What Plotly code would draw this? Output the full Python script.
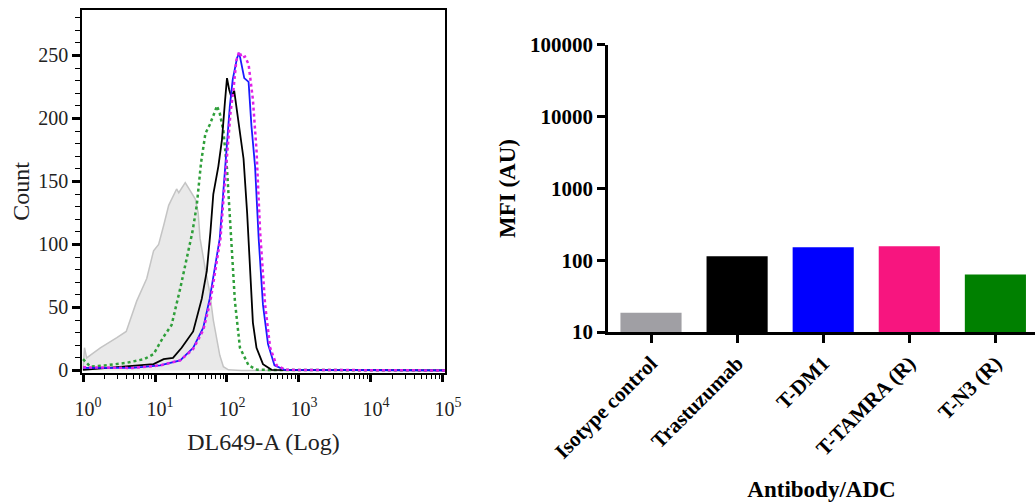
import numpy as np
import plotly.graph_objects as go

# ---------------- Left panel: flow cytometry histograms ----------------
# x positions given as log10 of DL649-A intensity, y = Count
iso_logx = [0.0, 0.02, 0.05, 0.24, 0.47, 0.6, 0.745, 0.885, 0.98, 1.05, 1.12, 1.19, 1.30, 1.33, 1.42, 1.46, 1.51, 1.56,
            1.60, 1.625, 1.70, 1.76, 1.81, 1.85, 1.90, 1.95, 2.02, 2.2, 5.03]
iso_cnt = [0, 18, 10, 18, 26, 31, 55, 73, 95, 100, 115, 131, 144, 141, 149, 145, 141, 136,
           125, 105, 80, 62, 40, 26, 12, 3, 0.5, 0, 0]

tn3_logx = [0.0, 0.1, 0.3, 0.6, 0.85, 0.98, 1.11, 1.23, 1.35, 1.44, 1.52, 1.58, 1.64, 1.70, 1.76, 1.83, 1.86,
            1.90, 1.95, 2.00, 2.04, 2.07, 2.11, 2.18, 2.30, 2.42, 5.03]
tn3_cnt = [9, 3, 4, 6, 9, 13, 26, 36, 65, 89, 110, 131, 165, 188, 195, 205, 210,
           204, 190, 160, 125, 95, 55, 18, 4, 0.5, 0]

tras_logx = [0.0, 0.6, 0.98, 1.12, 1.25, 1.37, 1.53, 1.65, 1.72, 1.77, 1.81, 1.88, 1.93, 1.97, 2.00, 2.03, 2.06,
             2.10, 2.14, 2.18, 2.23, 2.28, 2.32, 2.36, 2.41, 2.50, 2.62, 5.03]
tras_cnt = [0.5, 3, 5, 9, 10, 18, 31, 57, 79, 110, 140, 162, 183, 212, 232, 223, 217,
            222, 205, 189, 168, 125, 75, 38, 18, 5, 0.5, 0]

tdm1_logx = [0.0, 0.69, 1.07, 1.35, 1.53, 1.67, 1.76, 1.85, 1.90, 1.94, 2.00, 2.04, 2.08, 2.11, 2.14, 2.17,
             2.20, 2.24, 2.30, 2.34, 2.39, 2.44, 2.50, 2.57, 2.66, 2.80, 5.03]
tdm1_cnt = [2, 2, 4, 8, 18, 34, 57, 89, 105, 135, 183, 210, 231, 241, 248, 252,
            244, 232, 229, 194, 162, 105, 52, 21, 4, 0.5, 0]

ttamra_logx = [0.0, 0.69, 1.07, 1.35, 1.53, 1.67, 1.77, 1.86, 1.91, 1.95, 2.01, 2.05, 2.09, 2.13, 2.17, 2.21,
               2.25, 2.30, 2.36, 2.41, 2.46, 2.53, 2.60, 2.69, 2.82, 5.03]
ttamra_cnt = [2.5, 2, 4, 8, 17, 32, 55, 87, 105, 135, 178, 205, 223, 246, 253, 248,
              249, 243, 215, 175, 110, 52, 18, 4, 0.5, 0]

hist_xtick_vals = [1, 10, 100, 1000, 10000, 100000]
hist_xtick_text = ["10<sup>0</sup>", "10<sup>1</sup>", "10<sup>2</sup>", "10<sup>3</sup>",
                   "10<sup>4</sup>", "10<sup>5</sup>"]
hist_ytick_vals = [0, 50, 100, 150, 200, 250]

# ---------------- Right panel: MFI bar chart ----------------
categories = ["Isotype control", "Trastuzumab", "T-DM1", "T-TAMRA (R)", "T-N3 (R)"]
mfi_values = [18.5, 114, 152, 157, 63.5]
bar_colors = ["#a09fa4", "#000000", "#0000ff", "#f7157f", "#008000"]
mfi_tick_vals = [10, 100, 1000, 10000, 100000]
mfi_tick_text = ["10", "100", "1000", "10000", "100000"]

FONT = "Liberation Serif"

fig = go.Figure()


def to_lin(v):
    return 10 ** np.array(v)


fig.add_trace(go.Scatter(x=to_lin(iso_logx), y=iso_cnt, mode="lines", fill="tozeroy",
                         fillcolor="#e9e9e9", line=dict(color="#c4c4c4", width=1.5),
                         xaxis="x", yaxis="y", showlegend=False))
fig.add_trace(go.Scatter(x=to_lin(tn3_logx), y=tn3_cnt, mode="lines",
                         line=dict(color="#2f9f3a", width=2.5, dash="dot"),
                         xaxis="x", yaxis="y", showlegend=False))
fig.add_trace(go.Scatter(x=to_lin(tras_logx), y=tras_cnt, mode="lines",
                         line=dict(color="#000000", width=1.8),
                         xaxis="x", yaxis="y", showlegend=False))
fig.add_trace(go.Scatter(x=to_lin(tdm1_logx), y=tdm1_cnt, mode="lines",
                         line=dict(color="#1a1aff", width=1.8),
                         xaxis="x", yaxis="y", showlegend=False))
fig.add_trace(go.Scatter(x=to_lin(ttamra_logx), y=ttamra_cnt, mode="lines",
                         line=dict(color="#e020e8", width=2.5, dash="dot"),
                         xaxis="x", yaxis="y", showlegend=False))

fig.add_trace(go.Bar(x=categories, y=mfi_values, marker=dict(color=bar_colors, line=dict(width=0)),
                     width=0.71, xaxis="x2", yaxis="y2", showlegend=False))

fig.update_layout(
    width=1035, height=502,
    margin=dict(l=0, r=0, t=0, b=0, autoexpand=False),
    paper_bgcolor="white", plot_bgcolor="white",
    font=dict(family=FONT, color="#111111"),
    xaxis=dict(
        domain=[0.0792, 0.430], type="log", range=[-0.015, 5.03], automargin=False,
        tickvals=hist_xtick_vals, ticktext=hist_xtick_text,
        ticks="outside", ticklen=7, tickwidth=3, tickcolor="black",
        minor=dict(ticks="outside", ticklen=4, tickwidth=1, tickcolor="black", dtick="D1"),
        showline=True, linecolor="black", linewidth=1.5, mirror=True,
        showgrid=False, zeroline=False,
        ticklabelstandoff=10, ticklabelshift=5,
        tickfont=dict(family=FONT, size=20, color="#222222"),
        title=dict(text="DL649-A (Log)", font=dict(family=FONT, size=24, color="#222222"), standoff=14),
        anchor="y",
    ),
    yaxis=dict(
        domain=[0.257, 0.980], range=[-2, 286], automargin=False,
        tickvals=hist_ytick_vals,
        ticks="outside", ticklen=8, tickwidth=3, tickcolor="black",
        minor=dict(ticks="outside", ticklen=5, tickwidth=1, tickcolor="black", dtick=10),
        showline=True, linecolor="black", linewidth=1.5, mirror=True,
        showgrid=False, zeroline=False,
        tickfont=dict(family=FONT, size=20, color="#222222"),
        title=dict(text="Count", font=dict(family=FONT, size=24, color="#222222"), standoff=2),
        anchor="x",
    ),
    xaxis2=dict(
        domain=[0.5874, 1.0], range=[-0.5, 4.46], type="category", automargin=False,
        ticks="outside", ticklen=8, tickwidth=2.5, tickcolor="black",
        showline=True, linecolor="black", linewidth=2.5,
        showgrid=False, zeroline=False, tickangle=-45,
        tickfont=dict(family=FONT, size=21, color="black", weight="bold"),
        title=dict(text="Antibody/ADC", font=dict(family=FONT, size=23, color="black", weight="bold"), standoff=24),
        anchor="y2",
    ),
    yaxis2=dict(
        domain=[0.3386, 0.9104], type="log", range=[1, 5], automargin=False,
        tickvals=mfi_tick_vals, ticktext=mfi_tick_text,
        ticks="outside", ticklen=8, tickwidth=2.5, tickcolor="black",
        showline=True, linecolor="black", linewidth=2.5,
        showgrid=False, zeroline=False,
        tickfont=dict(family=FONT, size=21, color="black", weight="bold"),
        title=dict(text="MFI (AU)", font=dict(family=FONT, size=23, color="black", weight="bold"), standoff=8),
        anchor="x2",
    ),
)

fig.write_html("out.html")
